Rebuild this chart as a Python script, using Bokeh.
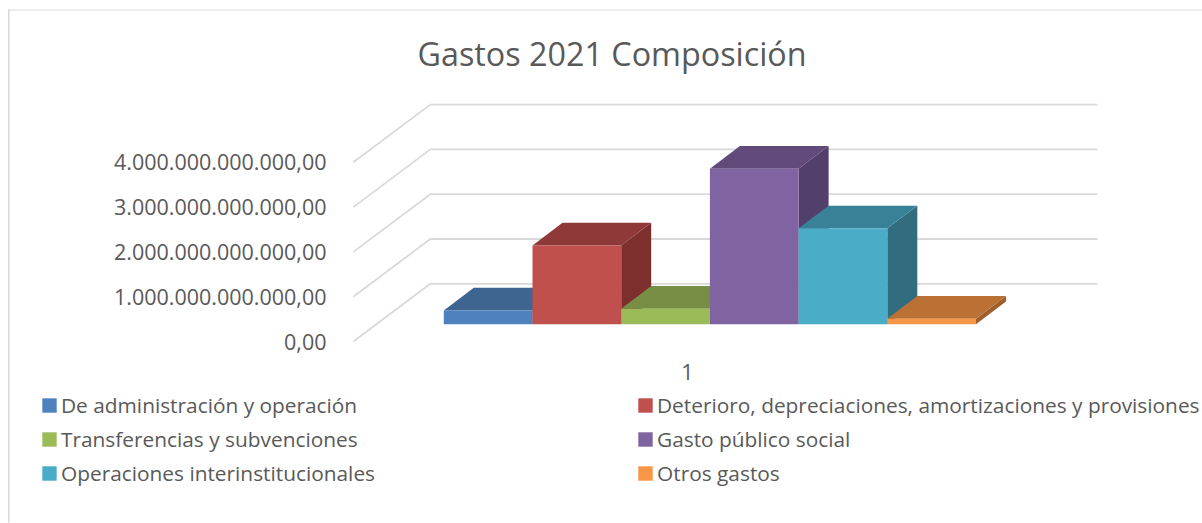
from bokeh.plotting import figure
from bokeh.models import LinearAxis, FixedTicker, Legend, LegendItem, BoxAnnotation, Label, Range1d
from bokeh.embed import file_html
from bokeh.resources import INLINE

TITLE = "Gastos 2021 Composición"
names = ["De administración y operación",
         "Deterioro, depreciaciones, amortizaciones y provisiones",
         "Transferencias y subvenciones", "Gasto público social",
         "Operaciones interinstitucionales", "Otros gastos"]
values = [0.306e12, 1.757e12, 0.344e12, 3.47e12, 2.14e12, 0.12e12]
front_colors = ["#4f81bd", "#c0504d", "#9bbb59", "#8064a2", "#4aacc7", "#f79646"]
top_colors = ["#3e6490", "#8f3a38", "#778f44", "#624b7b", "#388196", "#bb7034"]
side_colors = ["#375a82", "#7d2f2d", "#68803a", "#533f6b", "#316d7f", "#9e5f2a"]
y_ticks = [0, 1e12, 2e12, 3e12, 4e12]
y_labels = ["0,00", "1.000.000.000.000,00", "2.000.000.000.000,00",
            "3.000.000.000.000,00", "4.000.000.000.000,00"]
x_tick_label = "1"

W, H = 1202, 523
FONT = "Open Sans"
TXT = "#595959"
GRID = "#d9d9d9"
PX_X = 88.7            # px for one bar slot
PX_Y = 44.8 / 1e12     # px for one unit of value
ORIGIN_X = 443.3       # canvas x of the first bar's front-left corner
ZERO_Y = 341.0         # canvas y of value 0 on the front plane

x0 = -ORIGIN_X / PX_X
x1 = (W - ORIGIN_X) / PX_X
y1 = ZERO_Y / PX_Y
y0 = (ZERO_Y - H) / PX_Y

p = figure(width=W, height=H, output_backend="svg", toolbar_location=None,
           x_range=Range1d(x0, x1), y_range=Range1d(y0, y1),
           x_axis_type=None, y_axis_type=None,
           min_border=0)
p.outline_line_color = None
p.background_fill_color = "white"
p.grid.visible = False

p.add_layout(Label(x=417, y=H - 52, x_units="screen", y_units="screen", text=TITLE,
                   text_font=FONT, text_font_size="32.3px", text_color=TXT,
                   text_align="left", text_baseline="alphabetic"))

yax = LinearAxis(ticker=FixedTicker(ticks=y_ticks),
                 major_label_overrides=dict(zip(y_ticks, y_labels)),
                 fixed_location=(350 - ORIGIN_X) / PX_X)
xax = LinearAxis(ticker=FixedTicker(ticks=[2.747]),
                 major_label_overrides={2.747: x_tick_label},
                 fixed_location=(ZERO_Y - 345) / PX_Y)
for ax in (yax, xax):
    ax.axis_line_color = None
    ax.major_tick_line_color = None
    ax.minor_tick_line_color = None
    ax.major_tick_in = 0
    ax.major_tick_out = 0
    ax.major_label_text_font = FONT
    ax.major_label_text_font_size = "21.5px"
    ax.major_label_text_color = TXT
yax.major_label_standoff = 24
xax.major_label_standoff = 18
p.add_layout(yax, "left")
p.add_layout(xax, "below")

# wall and side gridlines of the 3-D box
wall_dx, wall_dy = 77 / PX_X, 57.7 / PX_Y
wall_left = -1.02
wall_right = 7.37
for t in y_ticks:
    p.line([wall_left, wall_left + wall_dx, wall_right], [t, t + wall_dy, t + wall_dy],
           line_color=GRID, line_width=1.8)

# bars: front, top and side faces
bar_dx, bar_dy = 30 / PX_X, 22.7 / PX_Y
base = 17.3 / PX_Y
items = []
for i, (n, v) in enumerate(zip(names, values)):
    a, b = i, i + 1
    lo, hi = base, base + v
    p.patch([b, b + bar_dx, b + bar_dx, b], [hi, hi + bar_dy, lo + bar_dy, lo], fill_color=side_colors[i], line_color=None)
    p.patch([a, a + bar_dx, b + bar_dx, b], [hi, hi + bar_dy, hi + bar_dy, hi], fill_color=top_colors[i], line_color=None)
    f = p.patch([a, b, b, a], [lo, lo, hi, hi], fill_color=front_colors[i], line_color=None)
    items.append(LegendItem(label=n, renderers=[f]))

# the legend fills column by column; the source reads row by row
items = items[0::2] + items[1::2]
legend = Legend(items=items, ncols=2, location=(40, 36), padding=0, margin=0, spacing=6,
                border_line_color=None, background_fill_alpha=0,
                glyph_width=18, glyph_height=18, label_standoff=3,
                label_width=569, label_height=27, label_text_line_height=1.2,
                label_text_font=FONT, label_text_font_size="20.85px", label_text_color=TXT)
p.add_layout(legend)

# chart-area border (screen y counts up from the bottom here)
p.add_layout(BoxAnnotation(left=7.5, right=9, top=H - 9, bottom=1, left_units="screen", right_units="screen",
                           top_units="screen", bottom_units="screen", fill_color=GRID, fill_alpha=1, line_color=None))
p.add_layout(BoxAnnotation(left=7.5, right=W, top=H - 9, bottom=H - 10, left_units="screen", right_units="screen",
                           top_units="screen", bottom_units="screen", fill_color=GRID, fill_alpha=1, line_color=None))

open("out.html", "w").write(file_html(p, INLINE))
